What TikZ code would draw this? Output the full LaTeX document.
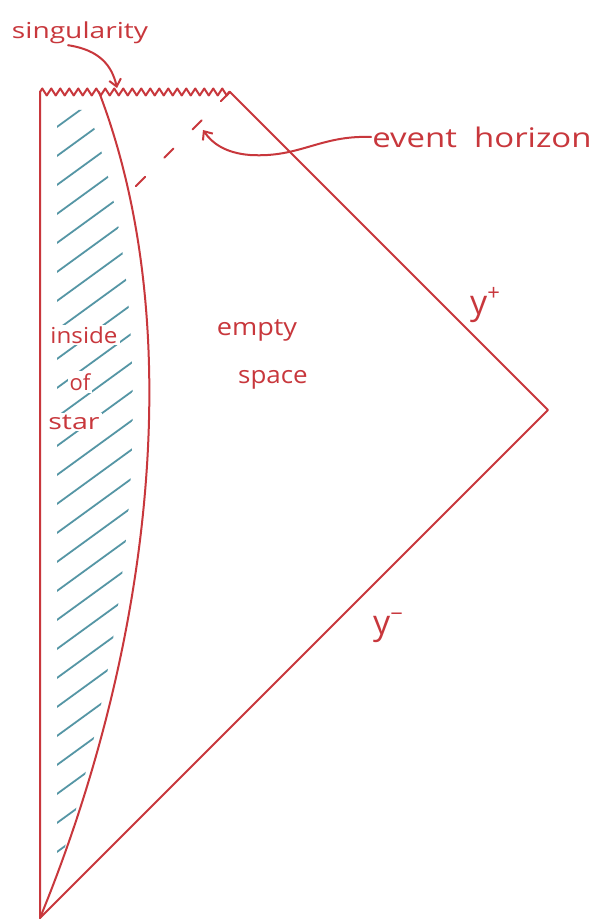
\documentclass[tikz,border=0pt]{standalone}
\usepackage{fontspec}
\setmainfont{Open Sans}
\usetikzlibrary{decorations.pathmorphing,arrows.meta}
\definecolor{ink}{RGB}{200,55,60}
\definecolor{hatch}{RGB}{85,150,165}
\begin{document}
\begin{tikzpicture}[x=1pt,y=-1pt,
  pen/.style={draw=ink,line width=2pt,line cap=round,line join=round},
  hatchline/.style={draw=hatch,line width=1.8pt,line cap=round},
  lbl/.style={text=ink,inner sep=1pt},
  starlbl/.style={text=ink,inner sep=2pt,fill=white},
  barb/.style={-{Straight Barb[length=7pt,width=12pt,line width=2pt]}}]
\useasboundingbox (0,0) rectangle (594,923);
\fill[white] (0,0) rectangle (594,923);
% corners
\coordinate (bot) at (40,918);
\coordinate (tl) at (40,92);
\coordinate (tr) at (230,92);
\coordinate (rt) at (548,410);
\coordinate (stop) at (99,92);
\coordinate (eh) at (130,192);
\coordinate (ehtip) at (203,130);
\coordinate (singtip) at (117,88);
% hatching
\begin{scope}
\clip (57,110) -- (57,872) .. controls (130,650) and (168,330) .. (88,110) -- cycle;
\foreach \yy in {132,161,...,990} \draw[hatchline] (50,\yy) -- ++(110,-80);
\end{scope}
% star labels
\node[starlbl] (inside) at (84,335) {\fontsize{22}{26}\selectfont\scalebox{1.1}[1]{inside}};
\node[starlbl] (of) at (80,382) {\fontsize{22}{26}\selectfont of};
\node[starlbl] (star) at (74,422) {\fontsize{22}{26}\selectfont\scalebox{1.3}[1]{star}};
% outline
\draw[pen] (tl) -- (bot) -- (rt) -- (tr);
\draw[pen] (bot) .. controls (150,650) and (190,330) .. (stop);
\draw[pen,decorate,decoration={zigzag,segment length=9pt,amplitude=3.5pt}] (tl) -- (tr);
\draw[pen,dash pattern=on 13pt off 27pt] (tr) -- (eh);
% labels
\node[lbl] (sing) at (80,33) {\fontsize{22}{26}\selectfont\scalebox{1.28}[1]{singularity}};
\node[lbl] (evt) at (482,137) {\fontsize{27}{30}\selectfont\scalebox{1.22}[1]{event\ \ horizon}};
\node[lbl] (empty) at (257,330) {\fontsize{24}{28}\selectfont\scalebox{1.13}[1]{empty}};
\node[lbl] (space) at (273,380) {\fontsize{24}{28}\selectfont\scalebox{1.08}[1]{space}};
\node[lbl] (yp) at (485,305) {\fontsize{34}{36}\selectfont y\raisebox{0.4em}{\fontsize{22}{22}\selectfont +}};
\node[lbl] (ym) at (388,628) {\fontsize{34}{36}\selectfont y\raisebox{0.4em}{\fontsize{22}{22}\selectfont \textminus}};
% arrows
\draw[pen,barb] ([xshift=-12pt]sing.south) .. controls (100,50) and (112,66) .. (singtip);
\draw[pen,barb] (evt.west) .. controls (320,135) and (300,158) .. (250,155) .. controls (225,153) and (212,143) .. (ehtip);
\end{tikzpicture}
\end{document}
